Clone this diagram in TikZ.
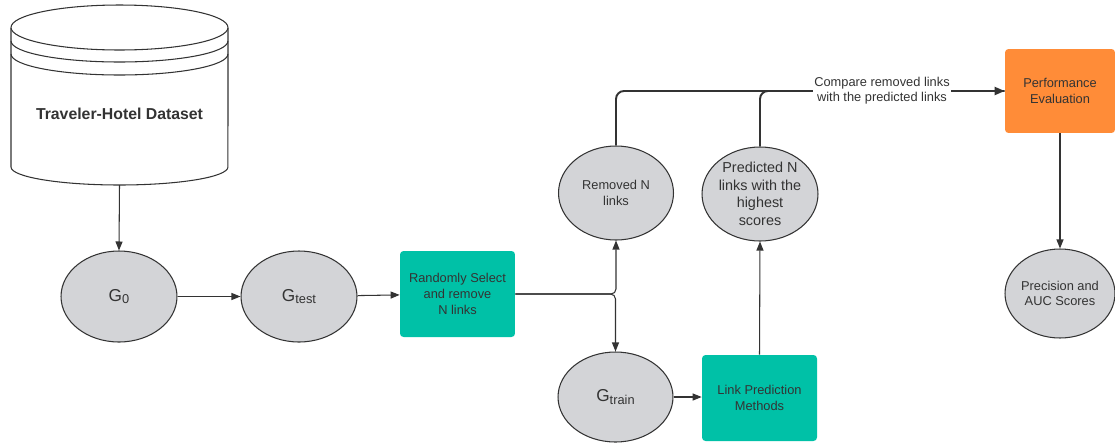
\documentclass[tikz,border=0pt]{standalone}
\usepackage{fontspec}
\setmainfont{Liberation Sans}
\usepackage{xcolor}
\usetikzlibrary{arrows.meta,positioning,shapes.geometric}

\definecolor{ink}{HTML}{333333}
\definecolor{bubblegray}{HTML}{D3D4D7}
\definecolor{taskteal}{HTML}{00C1A7}
\definecolor{evalorange}{HTML}{FF8C38}

\newcommand{\gname}[1]{{\fontsize{9.8}{11}\selectfont G}\raisebox{-1.6pt}{#1}}

\begin{document}
\begin{tikzpicture}[x=0.02cm, y=-0.02cm,
  bubble/.style={ellipse, draw=ink, fill=bubblegray, line width=0.6pt,
                 minimum width=2.32cm, minimum height=1.82cm, inner sep=0pt,
                 text=ink, align=center, font=\fontsize{7.3}{8.8}\selectfont},
  task/.style={rectangle, rounded corners=2pt, fill=taskteal,
               minimum width=2.3cm, minimum height=1.72cm, inner sep=0pt,
               text=ink, align=center, font=\fontsize{7.3}{9}\selectfont},
  arr/.style={-{Triangle[length=1.8mm,width=1.4mm]}, line width=0.6pt, draw=ink},
  link/.style={line width=1.1pt, draw=ink, rounded corners=0.16cm},
]
\useasboundingbox (0,0) rectangle (1115,447);

% dataset store
\draw[draw=ink, line width=0.6pt, fill=white]
  (11,28) -- (11,167) arc[start angle=180, end angle=360, x radius=2.17cm, y radius=0.36cm] -- (228,28);
\draw[draw=ink, line width=0.6pt, fill=white] (119.5,27.5) ellipse[x radius=2.17cm, y radius=0.45cm];
\draw[draw=ink, line width=0.6pt] (11,41) arc[start angle=180, end angle=360, x radius=2.17cm, y radius=0.42cm];
\draw[draw=ink, line width=0.6pt] (11,54) arc[start angle=180, end angle=360, x radius=2.17cm, y radius=0.42cm];
\node[text=ink, font=\fontsize{9}{11}\selectfont\bfseries] (data) at (119.5,114) {Traveler-Hotel Dataset};
\coordinate (database) at (119.5,185);

\node[bubble] (g0)    at (119,296.5) {\gname{0}};
\node[bubble] (gtest) at (299,296.5) {\gname{test}};
\node[task]   (rand)  at (457.5,294) {Randomly Select\\and remove\\N links};
\node[bubble, minimum width=2.3cm, minimum height=1.88cm] (rem) at (616,193) {Removed N\\links};
\node[bubble, minimum width=2.3cm, minimum height=1.8cm] (gtrain) at (615.5,397) {\gname{train}};
\node[task]   (lpm)   at (759.5,398) {Link Prediction\\Methods};
\node[bubble, minimum width=2.32cm, minimum height=1.88cm, inner sep=-8pt,
      font=\fontsize{8.2}{10}\selectfont] (pred) at (760,194) {Predicted N\\links with the\\highest\\scores};
\node[task, fill=evalorange, minimum width=2.2cm, minimum height=1.68cm] (perf) at (1060,91) {Performance\\Evaluation};
\node[bubble, minimum width=2.2cm, minimum height=1.78cm] (prec) at (1060,293.5) {Precision and\\AUC Scores};

\draw[arr] (database) -- (g0.north);
\draw[arr] (g0) -- (gtest);
\draw[arr] (gtest) -- (rand);
\draw[arr, rounded corners=0.1cm] (rand.east) -| (rem.south);
\draw[arr, rounded corners=0.1cm] (rand.east) -| (gtrain.north);
\draw[arr] (gtrain) -- (gtrain -| lpm.west);
\draw[arr] (lpm.north) -- (pred.south);

\draw[link] (pred.north) |- (perf.west);
\draw[link, -{Triangle[length=2mm,width=1.6mm]}] (rem.north) |- (perf.west);
\node[fill=white, inner sep=1pt, text=ink, align=center,
      font=\fontsize{7.3}{8.6}\selectfont] (compare) at (882,91) {Compare removed links\\with the predicted links};

\draw[arr] (perf) -- (prec);
\end{tikzpicture}
\end{document}
